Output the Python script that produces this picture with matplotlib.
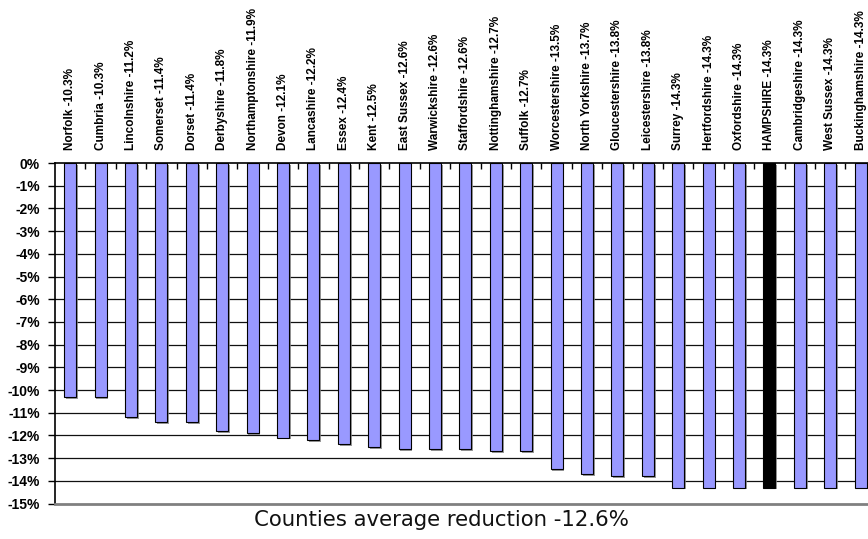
import matplotlib
matplotlib.use("Agg")
import matplotlib.pyplot as plt
import matplotlib.patheffects as pe
import numpy as np

counties = ["Norfolk", "Cumbria", "Lincolnshire", "Somerset", "Dorset", "Derbyshire",
            "Northamptonshire", "Devon", "Lancashire", "Essex", "Kent", "East Sussex",
            "Warwickshire", "Staffordshire", "Nottinghamshire", "Suffolk", "Worcestershire",
            "North Yorkshire", "Gloucestershire", "Leicestershire", "Surrey", "Hertfordshire",
            "Oxfordshire", "HAMPSHIRE", "Cambridgeshire", "West Sussex", "Buckinghamshire"]
reductions = [-10.3, -10.3, -11.2, -11.4, -11.4, -11.8, -11.9, -12.1, -12.2, -12.4,
              -12.5, -12.6, -12.6, -12.6, -12.7, -12.7, -13.5, -13.7, -13.8, -13.8,
              -14.3, -14.3, -14.3, -14.3, -14.3, -14.3, -14.3]
highlight = "HAMPSHIRE"
y_ticks = list(range(0, -16, -1))
title = "Counties average reduction -12.6%"

W, H = 868, 539
fig = plt.figure(figsize=(W / 100, H / 100), dpi=100)
left_px, right_px, top_px, bot_px = 55, 868, 163, 503.5
ax = fig.add_axes([left_px / W, 1 - bot_px / H, (right_px - left_px) / W, (bot_px - top_px) / H])

x = np.arange(len(counties))
colors = ["black" if c == highlight else "#9999FF" for c in counties]
bars = ax.bar(x, reductions, width=0.4, color=colors, edgecolor="black", linewidth=0.8, zorder=3)
for b in bars:
    b.set_path_effects([pe.SimplePatchShadow(offset=(1.3, -1.3), shadow_rgbFace="#808080", alpha=0.8),
                        pe.Normal()])

spacing = 30.4
ax.set_xlim(-0.5, -0.5 + (right_px - left_px) / spacing)
ax.set_ylim(-15, 0)

for v in y_ticks[1:-1]:
    ax.axhline(v, color="#111111", linewidth=0.9, zorder=1)

ax.set_yticks(y_ticks)
ax.set_yticklabels([f"{v}%" for v in y_ticks], fontsize=10, fontweight="bold",
                   family="Liberation Sans")
ax.tick_params(axis="y", direction="out", length=5, width=1, pad=6, colors="black")

ax.xaxis.tick_top()
ax.set_xticks(x)
ax.set_xticklabels([f"{c} {v:.1f}%" for c, v in zip(counties, reductions)], rotation=90,
                   fontsize=8.5, fontweight="bold", family="Liberation Sans")
ax.tick_params(axis="x", which="major", length=0, pad=9.4)
ax.set_xticks(np.arange(0.5, len(counties) - 0.5, 1.0), minor=True)
ax.tick_params(axis="x", which="minor", direction="in", length=4, width=1, top=True, bottom=False)

ax.spines["right"].set_visible(False)
ax.spines["left"].set_linewidth(1.2)
ax.spines["top"].set_linewidth(1.2)
ax.spines["bottom"].set_color("#808080")
ax.spines["bottom"].set_linewidth(2)

fig.text(441 / W, 1 - 520 / H, title, ha="center", va="center", fontsize=15.3,
         family="DejaVu Sans", color="#111111")

fig.savefig("out.png", dpi=100)
